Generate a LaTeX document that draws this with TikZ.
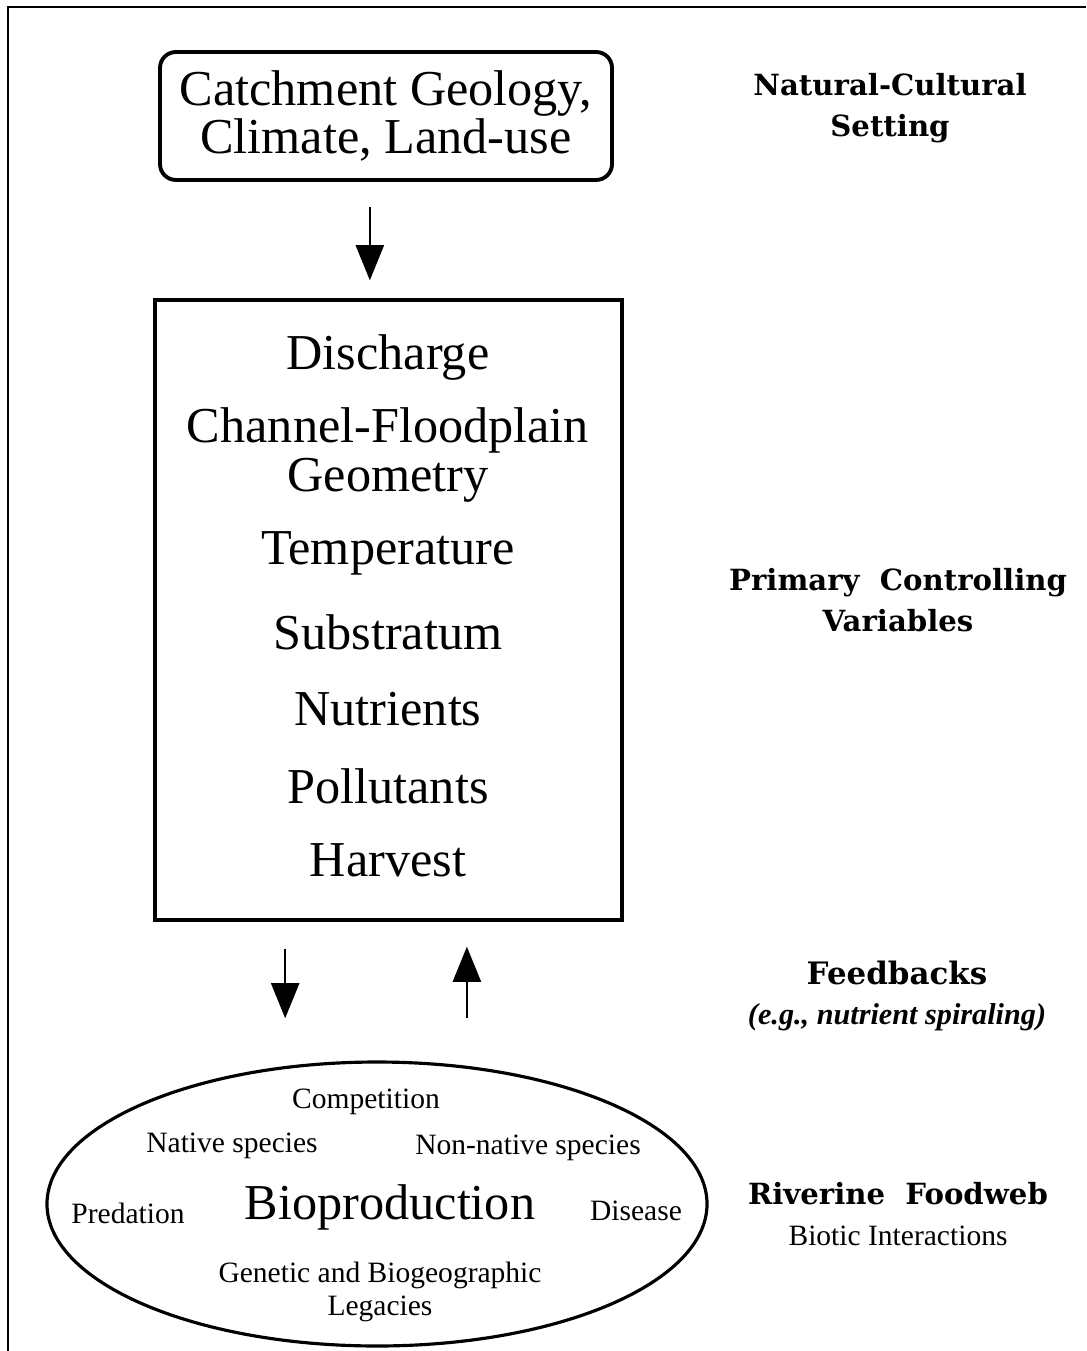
\documentclass[tikz,border=0pt]{standalone}
\usepackage{fontspec}
\setmainfont{Liberation Serif}
\newfontfamily\slabfont{DejaVu Serif}
\usetikzlibrary{arrows.meta,positioning,shapes.geometric}

\begin{document}
\begin{tikzpicture}[x=0.1mm, y=-0.1mm,
    big/.style={font=\fontsize{14.3}{13.7}\selectfont},
    small/.style={font=\fontsize{8.4}{9.4}\selectfont},
    tag/.style={font=\slabfont\bfseries\fontsize{8.3}{11.5}\selectfont, align=center},
    arr/.style={-{Triangle[length=10pt,width=8pt]}, line width=0.6pt}]
  \useasboundingbox (0,0) rectangle (1086,1351);
  % frame (left and top only)
  \draw[line width=0.7pt] (8,1351) -- (8,7) -- (1086,7);
  % setting
  \node[big, draw, line width=1.1pt, rounded corners=4.5pt, align=center,
        minimum width=128.6pt, minimum height=36.4pt, inner sep=0pt]
        (catch) at (386,116) {Catchment Geology,\\Climate, Land-use};
  \node[tag] (setting) at (890,108) {Natural-Cultural\\Setting};
  % controlling variables
  \node[draw, line width=1pt, minimum width=132.9pt, minimum height=176.4pt,
        inner sep=0pt] (ctrl) at (388.5,610) {};
  \foreach \yy/\txt [count=\i] in {370/Discharge, 443/Channel-Floodplain,
      492/Geometry, 565/Temperature, 650/Substratum, 725/Nutrients,
      803/Pollutants, 876/Harvest}
    \node[big, anchor=base] (var\i) at (388,\yy) {\txt};
  \node[tag] (primary) at (898,600) {Primary\ \ Controlling\\Variables};
  \draw[arr, shorten <=7.1pt, shorten >=5.1pt]
    ([xshift=-4.6pt]catch.south) -- ([xshift=-4.6pt]catch.south |- ctrl.north);
  % foodweb
  \node[draw, ellipse, line width=0.9pt, minimum width=187.8pt,
        minimum height=80.8pt, inner sep=0pt] (web) at (377,1204) {};
  \node[big, anchor=base] (bio) at (390,1219) {Bioproduction};
  \node[small, anchor=base] (comp) at (366,1108) {Competition};
  \node[small, anchor=base] (native) at (232,1152) {Native species};
  \node[small, anchor=base] (nonnative) at (528,1154) {Non-native species};
  \node[small, anchor=base] (pred) at (128,1223) {Predation};
  \node[small, anchor=base] (disease) at (636,1220) {Disease};
  \node[small, align=center] (legacy) at (380,1292)
    {Genetic and Biogeographic\\Legacies};
  % feedbacks
  \draw[arr, shorten <=7.7pt, shorten >=12pt]
    ([xshift=-29.4pt]ctrl.south) -- ([xshift=-29.4pt]ctrl.south |- web.north);
  \draw[arr, shorten <=12pt, shorten >=7.1pt]
    ([xshift=22.3pt]ctrl.south |- web.north) -- ([xshift=22.3pt]ctrl.south);
  \node[tag] (feed) at (897,996)
    {{\fontsize{8.8}{11.5}\selectfont Feedbacks}\\{\normalfont\bfseries\itshape\fontsize{8.6}{10}\selectfont (e.g., nutrient spiraling)}};
  \node[tag] (river) at (898,1214)
    {Riverine\ \ Foodweb\\{\normalfont\fontsize{8.4}{10}\selectfont Biotic Interactions}};
\end{tikzpicture}
\end{document}
